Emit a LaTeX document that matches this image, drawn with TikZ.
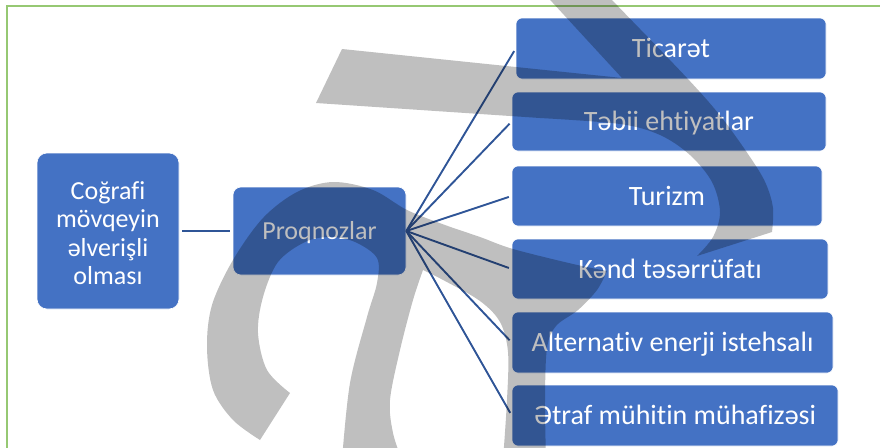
\documentclass[tikz,border=0pt]{standalone}
\usepackage{fontspec}
\setmainfont{Carlito}[Ligatures={NoCommon}]
\definecolor{boxblue}{RGB}{68,114,196}
\definecolor{lineblue}{RGB}{47,85,151}
\definecolor{framegreen}{RGB}{150,200,115}
\begin{document}
\begin{tikzpicture}[x=1pt,y=-1pt,
  box/.style={fill=boxblue, draw=white, line width=0.6pt, rounded corners=6pt,
    text=white, inner sep=0pt, align=center},
  leftfont/.style={font=\fontsize{26}{28.3}\selectfont},
  rightfont/.style={font=\fontsize{28}{32}\selectfont, text height=18pt, text depth=0pt},
  midfont/.style={font=\fontsize{26}{30}\selectfont, text height=16.7pt, text depth=0pt},
  conn/.style={draw=lineblue, line width=2.8pt, shorten <=3pt, shorten >=3pt},
  fan/.style={draw=lineblue, line width=1.9pt, shorten >=3pt},
  wm/.style={fill=black, fill opacity=0.25},
  frame/.style={draw=framegreen, line width=1.5pt}]
\useasboundingbox (0,0) rectangle (880,447);
\clip (0,0) rectangle (880,447);

% frame
\draw[frame] (7,460) -- (7,6) -- (890,6);

% boxes
\node[box, leftfont, minimum width=142pt, minimum height=156pt, rounded corners=10pt] (l) at (108,231) {\rule{0pt}{22pt}Coğrafi\\mövqeyin\\əlverişli\\olması};
\node[box, midfont, minimum width=173pt, minimum height=88pt, rounded corners=8pt] (p) at (319.5,231) {Proqnozlar};

\node[box, rightfont, minimum width=310pt, minimum height=61pt] (r1) at (671,48.5) {Ticarət};
\node[box, rightfont, minimum width=314pt, minimum height=59pt] (r2) at (669,121.5) {Təbii ehtiyatlar};
\node[box, rightfont, minimum width=310pt, minimum height=60pt] (r3) at (667,196) {Turizm};
\node[box, rightfont, minimum width=316pt, minimum height=60pt] (r4) at (670,269) {Kənd təsərrüfatı};
\node[box, rightfont, minimum width=321pt, minimum height=61pt] (r5) at (672.5,342.5) {Alternativ enerji istehsalı};
\node[box, rightfont, minimum width=326pt, minimum height=61pt] (r6) at (675,415.5) {Ətraf mühitin mühafizəsi};

% connectors
\draw[conn] (l) -- (p);
\foreach \r in {r1,r2,r3,r4,r5,r6} { \draw[fan] (p.east) -- (\r.west); }

% watermark (lower shape)
\fill[wm] (290,393) -- (260,440)
  -- plot[smooth, tension=0.55] coordinates {(260,440) (233,420) (213,390) (207,347) (212,305) (233,260) (263,218) (297,192) (333,182) (373,190) (407,210) (445,225) (480,237) (513,249) (573,264) (607,271)}
  -- plot[smooth, tension=0.55] coordinates {(607,271) (597,290) (578,310) (556,326) (547,348) (545,400) (546,460)}
  -- (503,460)
  -- plot[smooth, tension=0.55] coordinates {(503,460) (507,400) (508,352) (500,322) (480,301) (445,281) (423,270)}
  -- plot[smooth, tension=0.55] coordinates {(423,270) (413,300) (400,350) (390,400) (393,433) (402,460)}
  -- (342,460)
  -- plot[smooth, tension=0.55] coordinates {(342,460) (350,383) (367,317) (377,283) (377,258) (355,242) (330,237) (305,242) (278,262) (263,297) (258,333) (267,370) (290,393)}
  -- cycle;

% watermark (upper shape)
\fill[wm] (541,-10) -- (622,78) -- (342,49) -- (316,103) -- (540,118)
  -- plot[smooth, tension=0.55] coordinates {(540,118) (620,124) (660,135) (690,155) (712,182) (720,212) (713,237) (697,256)}
  -- (772,232)
  -- plot[smooth, tension=0.55] coordinates {(772,232) (773,208) (766,184) (752,160) (722,118) (687,78) (612,0) (603,-10)}
  -- cycle;
\end{tikzpicture}
\end{document}
